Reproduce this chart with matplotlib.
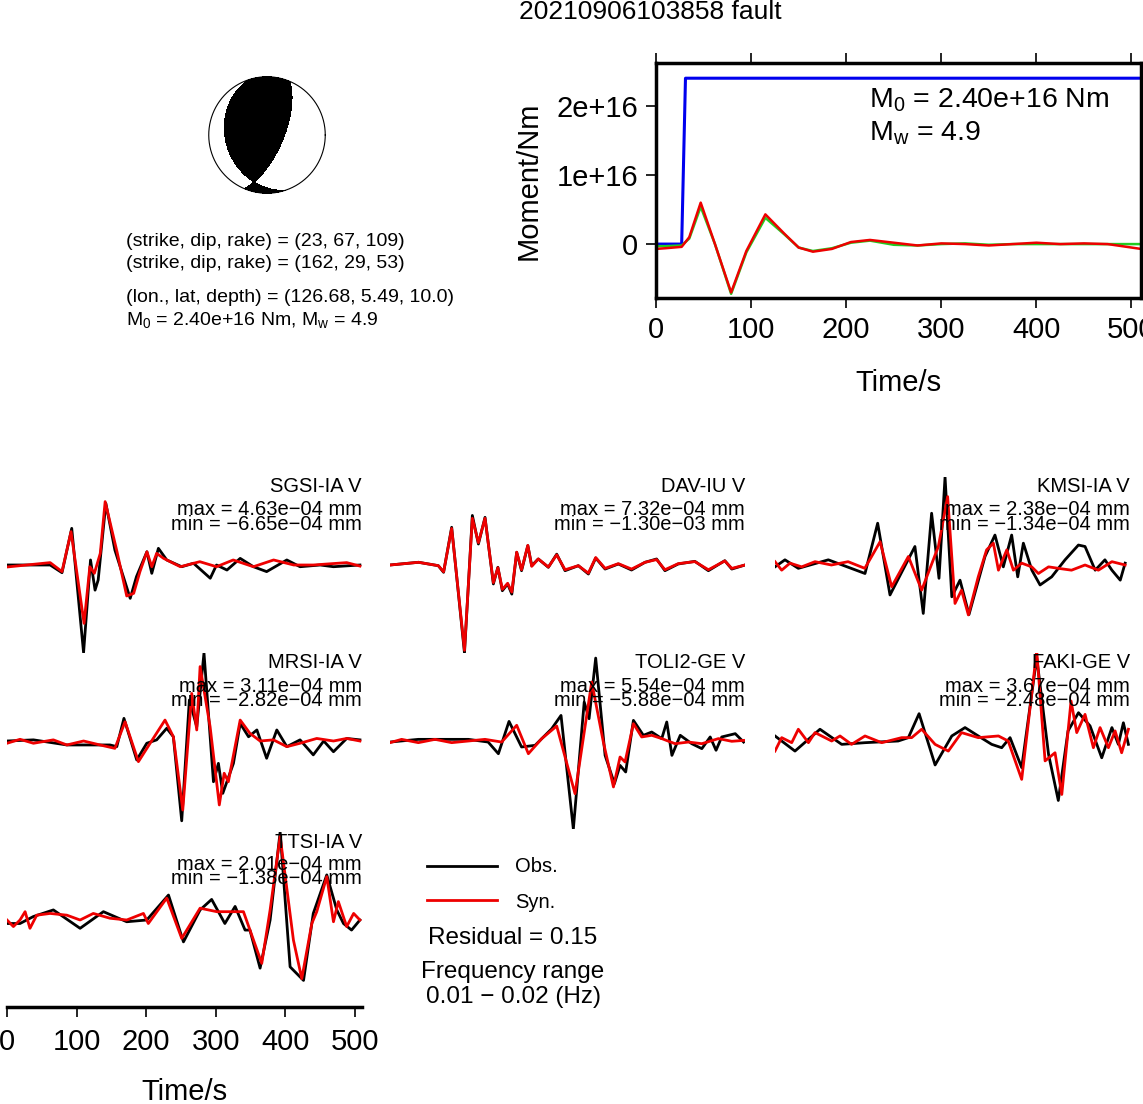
import numpy as np
import matplotlib
matplotlib.use("Agg")
import matplotlib.pyplot as plt

plt.rcParams['font.family'] = ['Liberation Sans', 'DejaVu Sans']
plt.rcParams['mathtext.fontset'] = 'custom'
plt.rcParams['mathtext.rm'] = 'Liberation Sans'
plt.rcParams['mathtext.it'] = 'Liberation Sans'

W, H = 1143, 1104
title = "20210906103858 fault"
strike1, dip1, rake1 = 23, 67, 109
strike2, dip2, rake2 = 162, 29, 53
lon, lat, depth = 126.68, 5.49, 10.0
M0_text = "2.40e+16"
Mw = 4.9
residual = 0.15
freq_lo, freq_hi = 0.01, 0.02

# moment (1e16 Nm) and moment rate traces
mom_t = [0, 27, 31, 510]
mom_v = [0, 0, 2.4, 2.4]
rate_t = [0, 10, 27, 35, 47, 62, 79, 95, 115, 135, 150, 165, 185, 205, 225, 250, 275, 300, 325, 350, 375, 400, 425, 450, 475, 500, 510]
rate_red = [-0.07, -0.06, -0.04, 0.1, 0.6, 0.0, -0.7, -0.1, 0.43, 0.15, -0.05, -0.11, -0.07, 0.03, 0.06, 0.02, -0.02, 0.01, 0.0, -0.02, 0.0, 0.02, 0.0, 0.01, 0.0, -0.05, -0.07]
rate_green = [-0.03, -0.03, -0.02, 0.08, 0.54, 0.0, -0.72, -0.12, 0.38, 0.14, -0.05, -0.1, -0.06, 0.02, 0.05, -0.01, -0.02, 0.0, 0.01, -0.01, 0.0, 0.0, 0.0, 0.0, 0.0, 0.0, 0.0]

stations = ["SGSI-IA V", "DAV-IU V", "KMSI-IA V", "MRSI-IA V", "TOLI2-GE V", "FAKI-GE V", "TTSI-IA V"]
maxs = [4.63, 7.32, 2.38, 3.11, 5.54, 3.67, 2.01]      # 1e-4 mm
mins = [-6.65, -13.0, -1.34, -2.82, -5.88, -2.48, -1.38]

obs_t = [
 [0,62,79,93,110,120,126.5,131,142,155,177,186,201,208,217.5,229.5,251,268,292,301,316,335,354,373,402,421,450,469,507],
 [0,41,69.4,77,88.6,107,118.3,127,136.5,148.5,155,161.4,169,175,182,189,198,203.6,213,227.5,239.5,251.5,270.6,285,295.5,309,328,347,366.4,383,395,414,438,457.4,481,491,510],
 [0,14.3,33.5,76.6,129.3,147.5,165.2,201,213,225,235.6,244.3,254,265.8,278.7,301.7,316,328,340,348.7,356.8,369,380.8,397.5,416.7,435.9,445.4,460,474,484,496,503],
 [0,38,86,148,157.7,168,186.4,200.8,215,229.5,239,251,262,272.6,283,296.6,303.7,310,325.3,335,347,359,373,387.6,402,421,440,455,469,488,507],
 [0,40.7,112.6,141,155.7,171,189,208.4,232.3,245.7,263.4,279,286,295.5,309,322.4,330.5,338.6,349.7,364,376,390.4,397.6,405,417,433.5,448,460,468.4,476.6,496,508],
 [0,28.7,64.6,95.8,129.3,177,191.6,207,230,254,273,292,311.3,325.7,337.7,354.4,376,393,407,421,436,452.6,469.4,484,493.3,500.5,507.7],
 [0,18.7,38,66.6,105,138.5,172,200.8,232,253.5,277.4,294,313,327.7,342,349,363.6,378,392.4,406.7,426,440,459.4,473.8,483.4,495,507],
]
obs_v = [
 [0,0,-0.58,2.77,-6.62,0.38,-1.9,-1.13,4.66,1.13,-2.52,-0.88,1.0,-0.63,1.26,0.38,-0.13,0.13,-1.0,0,-0.38,0.5,-0.13,-0.5,0.38,-0.13,0,-0.13,0],
 [0,0.4,-0.1,-1.08,5.57,-13.0,7.32,3.1,7.04,-2.8,-0.34,-3.8,-2.8,-4.3,1.87,-0.84,2.86,-0.1,0.89,-0.34,1.6,-0.84,-0.1,-1.33,1.03,-0.6,0.15,-0.74,0.4,0.89,-0.84,0.15,0.54,-0.84,0.64,-0.6,0],
 [-0.05,0.14,-0.09,0.14,-0.23,1.13,-0.81,0.5,-1.31,1.4,-0.36,2.38,-0.86,-0.41,-1.34,0.23,0.81,-0.05,0.81,-0.32,0.59,-0.14,-0.54,-0.32,0.14,0.54,0.5,-0.14,0.14,-0.14,-0.41,0.05],
 [0,0.04,-0.14,-0.14,-0.2,0.8,-0.67,-0.08,0.04,0.45,0.15,-2.82,1.45,0.5,3.11,-1.44,-0.79,-1.85,-0.79,0.62,0.15,0.39,-0.61,0.39,-0.2,0.04,-0.49,0,-0.38,0.09,0.04],
 [-0.07,0.11,0.11,-0.07,-0.85,1.31,-0.4,-0.29,0.82,1.71,-5.88,2.6,1.49,5.54,-0.96,-2.85,-1.63,-2.07,1.38,0.38,0.6,0.16,1.27,-0.96,0.38,-0.18,-0.51,0.27,-0.62,0.27,0.49,-0.07],
 [0.21,-0.42,0.49,-0.14,-0.07,0,0.14,1.14,-1.0,0.21,0.56,0.21,-0.14,-0.28,0.14,-1.11,3.48,-0.56,-2.48,0.42,1.18,0.63,-0.7,0.56,-0.14,0.76,-0.14],
 [-0.08,-0.08,0.08,0.23,-0.19,0.19,-0.04,0,0.57,-0.5,0.23,0.47,-0.08,0.31,-0.23,-0.23,-1.1,0,2.01,-1.07,-1.38,0.15,1.03,0.23,-0.08,-0.23,0],
]
syn_t = [
 [0,62,79,92,110.7,119,125.5,134,141,158,172,182,191,201,208,215,225,249,277,301,325,354,383,412,440,488,507],
 [0,41,69.4,77,88.6,107,118.3,127,136.5,148.5,155,161.4,169,175,182,189,198,203.6,213,227.5,239.5,251.5,270.6,285,295.5,309,328,347,366.4,383,395,414,438,457.4,481,491,510],
 [0,9.6,21.5,38.3,57.5,81,105,129,151,167.6,191.6,210.7,234.7,248,258.6,268,277.8,292,304,313.7,321,333,342.5,354.4,368.8,378.4,393,407,426,445.4,464.6,484,503],
 [0,18.7,38,66.6,86,110,133.7,155,169.6,188.8,205.6,227,239,252.5,265.4,272.6,277.4,291.8,305,312,318,335,349,363.6,382.8,402,421,445,469,488,507],
 [0,16.7,40.7,64.7,88.6,136.5,160.4,182,198.8,218,239.5,265.8,282.6,289.8,306.5,321,330.5,337.7,349.7,361.6,376,390.4,409.5,428.7,448,471.8,491,508],
 [0,9.6,24,33.5,48,57.5,81.4,93.4,110,129.3,153.3,182,196.4,210.7,230,249,268,292,321,335,354.4,376,388,402.3,412,425.3,433.5,445.4,457.4,467,479,488.6,498,507.7],
 [0,9.2,18.7,26,33,42.7,62,86,105,124,148,172,196,203,229.5,251,277.4,301.4,339.7,366,378,392.4,411.5,423.5,437.9,445,459.4,469,476,488,498,507],
]
syn_v = [
 [-0.15,0.18,-0.5,2.52,-4.41,-0.13,-0.63,0.88,4.79,1.01,-2.34,-2.14,-0.5,1.0,-0.13,0.88,0.5,-0.13,0.25,-0.13,0.38,-0.13,0.38,0,0,0.18,-0.08],
 [0,0.4,-0.1,-1.0,5.4,-12.6,6.9,3.3,6.9,-2.6,-0.4,-3.6,-2.7,-4.0,1.9,-0.7,2.9,-0.2,0.9,-0.3,1.5,-0.7,-0.1,-1.2,1.1,-0.5,0.2,-0.6,0.4,0.8,-0.7,0.2,0.5,-0.7,0.6,-0.5,0],
 [0.09,-0.14,0.05,-0.05,0.09,0,0.09,-0.09,0.63,-0.59,0.23,-0.68,0.5,1.85,-1.04,-0.68,-1.35,-0.32,0.41,0.59,-0.14,0.41,-0.14,0.05,-0.05,-0.23,-0.05,-0.09,-0.14,0,-0.14,0.09,0],
 [-0.08,0.06,-0.08,0.04,-0.14,0,-0.14,-0.26,0.68,-0.73,-0.08,0.74,0.15,-2.44,1.68,0.39,2.63,0.5,-2.26,-1.14,-1.44,0.74,0.27,0,0.04,-0.2,-0.08,0.09,0,0.09,0],
 [-0.11,0.11,-0.11,0.11,-0.11,0.11,-0.07,1.05,-0.85,0.16,1.0,-3.52,1.71,3.94,-0.07,-3.07,-1.07,-1.4,1.16,0.27,0.38,0.16,-0.18,-0.07,-0.18,0.16,-0.02,0.04],
 [-0.42,0.14,-0.07,0.49,-0.07,0.35,0,0.21,-0.14,0.21,-0.07,0.14,0.14,0.49,-0.14,-0.42,0.35,0.14,0.21,0,-1.6,3.76,-0.83,-0.49,-2.23,1.67,0.35,1.11,-0.28,0.56,-0.28,0.42,-0.49,0.49],
 [0,-0.15,0,0.19,-0.19,0.11,0.15,0.11,0,0.15,0.04,0,0.15,-0.08,0.5,-0.42,0.27,0.19,0.19,-0.99,0.23,1.91,-0.46,-1.34,-0.08,0.19,0.99,-0.04,0.42,-0.15,0.15,0],
]
time_ticks = [0, 100, 200, 300, 400, 500]

fig = plt.figure(figsize=(W/100, H/100), dpi=100)

def rect(x0, y0, x1, y1):
    return [x0/W, 1 - y1/H, (x1-x0)/W, (y1-y0)/H]

def ftext(x, y, s, **kw):
    fig.text(x/W, 1 - y/H, s, **kw)

ftext(650, 12, title, ha='center', va='center', fontsize=19)

# ---- beachball ----
def mt(s, d, r):
    s, d, r = np.radians([s, d, r])
    Mxx = -(np.sin(d)*np.cos(r)*np.sin(2*s) + np.sin(2*d)*np.sin(r)*np.sin(s)**2)
    Myy = np.sin(d)*np.cos(r)*np.sin(2*s) - np.sin(2*d)*np.sin(r)*np.cos(s)**2
    Mzz = np.sin(2*d)*np.sin(r)
    Mxy = np.sin(d)*np.cos(r)*np.cos(2*s) + 0.5*np.sin(2*d)*np.sin(r)*np.sin(2*s)
    Mxz = -(np.cos(d)*np.cos(r)*np.cos(s) + np.cos(2*d)*np.sin(r)*np.sin(s))
    Myz = -(np.cos(d)*np.cos(r)*np.sin(s) - np.cos(2*d)*np.sin(r)*np.cos(s))
    return np.array([[Mxx, Mxy, Mxz], [Mxy, Myy, Myz], [Mxz, Myz, Mzz]])

M = mt(strike1, dip1, rake1)
axb = fig.add_axes(rect(207, 75, 327, 195))
g = np.linspace(-1, 1, 600)
X, Y = np.meshgrid(g, g)
R = np.hypot(X, Y)
inc = 2*np.arcsin(np.clip(R, 0, 1)/np.sqrt(2))
az = np.arctan2(X, Y)
n = np.stack([np.sin(inc)*np.cos(az), np.sin(inc)*np.sin(az), np.cos(inc)])
amp = np.einsum('i...,ij,j...->...', n, M, n)
amp = np.where(R <= 1, amp, np.nan)
axb.contourf(X, Y, amp, levels=[0, np.nanmax(amp)+1], colors='black')
th = np.linspace(0, 2*np.pi, 400)
axb.plot(np.cos(th), np.sin(th), color='black', lw=0.8)
axb.set_xlim(-1.03, 1.03); axb.set_ylim(-1.03, 1.03)
axb.set_aspect('equal'); axb.axis('off')

fs = 14
ftext(126, 241, f"(strike, dip, rake) = ({strike1}, {dip1}, {rake1})", fontsize=fs, va='center')
ftext(126, 264, f"(strike, dip, rake) = ({strike2}, {dip2}, {rake2})", fontsize=fs, va='center')
ftext(126, 297, f"(lon., lat, depth) = ({lon:.2f}, {lat:.2f}, {depth:.1f})", fontsize=fs, va='center')
ftext(126, 320, r"M$_0$ = " + M0_text + r" Nm, M$_\mathrm{w}$ = " + f"{Mw}", fontsize=fs, va='center')

# ---- moment function ----
axm = fig.add_axes(rect(656, 63, 1141, 298))
axm.plot(mom_t, mom_v, color='#0000ee', lw=2.2)
axm.plot(rate_t, rate_green, color='#22cc22', lw=1.8)
axm.plot(rate_t, rate_red, color='#ee0000', lw=1.8)
axm.set_xlim(0, 510); axm.set_ylim(-0.78, 2.62)
axm.set_xticks(time_ticks)
axm.set_yticks([0, 1, 2]); axm.set_yticklabels(['0', '1e+16', '2e+16'])
axm.tick_params(direction='out', length=7, width=1.2, labelsize=21, top=True, right=True, pad=6)
for sp in axm.spines.values():
    sp.set_linewidth(2.5)
axm.set_xlabel("Time/s", fontsize=21, labelpad=18)
axm.set_ylabel("Moment/Nm", fontsize=21, labelpad=10)
axm.text(0.44, 0.84, r"M$_0$ = " + M0_text + " Nm", transform=axm.transAxes, fontsize=20.5, va='center')
axm.text(0.44, 0.70, r"M$_\mathrm{w}$ = " + f"{Mw}", transform=axm.transAxes, fontsize=20.5, va='center')

# ---- waveforms ----
col_x = [7, 390, 775]
row_base = [565, 741, 920]
for i, st in enumerate(stations):
    r, c = divmod(i, 3)
    x0 = col_x[c]; yb = row_base[r]
    ax = fig.add_axes(rect(x0, yb-88, x0+355, yb+88))
    lim = max(maxs[i], -mins[i])
    ax.plot(obs_t[i], obs_v[i], color='black', lw=2)
    ax.plot(syn_t[i], syn_v[i], color='#ee0000', lw=2)
    ax.set_xlim(0, 510); ax.set_ylim(-lim, lim)
    ax.axis('off')
    xr = x0 + 355
    yt = yb - 78
    ftext(xr, yt, st, ha='right', va='center', fontsize=14.5)
    ftext(xr, yt+23, f"max = {maxs[i]*1e-4:.2e} mm".replace('-', '\u2212'), ha='right', va='center', fontsize=14.5)
    ftext(xr, yt+37, f"min = {mins[i]*1e-4:.2e} mm".replace('-', '\u2212'), ha='right', va='center', fontsize=14.5)

# time axis
axt = fig.add_axes(rect(7, 990, 362, 1007))
axt.set_xlim(0, 510)
axt.set_xticks(time_ticks)
for s in ['top', 'left', 'right']:
    axt.spines[s].set_visible(False)
axt.spines['bottom'].set_linewidth(2.5)
axt.set_yticks([])
axt.tick_params(axis='x', direction='out', length=7, width=1.2, labelsize=21, pad=8)
axt.patch.set_alpha(0)
axt.set_xlabel("Time/s", fontsize=21, labelpad=16)

# legend / info
fig.add_artist(plt.Line2D([427/W, 497/W], [1-866/H, 1-866/H], color='black', lw=2))
fig.add_artist(plt.Line2D([427/W, 497/W], [1-900/H, 1-900/H], color='#ee0000', lw=2))
ftext(515, 866, "Obs.", va='center', fontsize=14.5)
ftext(515, 902, "Syn.", va='center', fontsize=14.5)
ftext(513, 938, f"Residual = {residual}", ha='center', va='center', fontsize=17.5)
ftext(513, 972, "Frequency range", ha='center', va='center', fontsize=17.5)
ftext(513, 997, f"{freq_lo} \u2212 {freq_hi} (Hz)", ha='center', va='center', fontsize=17.5)

fig.savefig("out.png", dpi=100)
